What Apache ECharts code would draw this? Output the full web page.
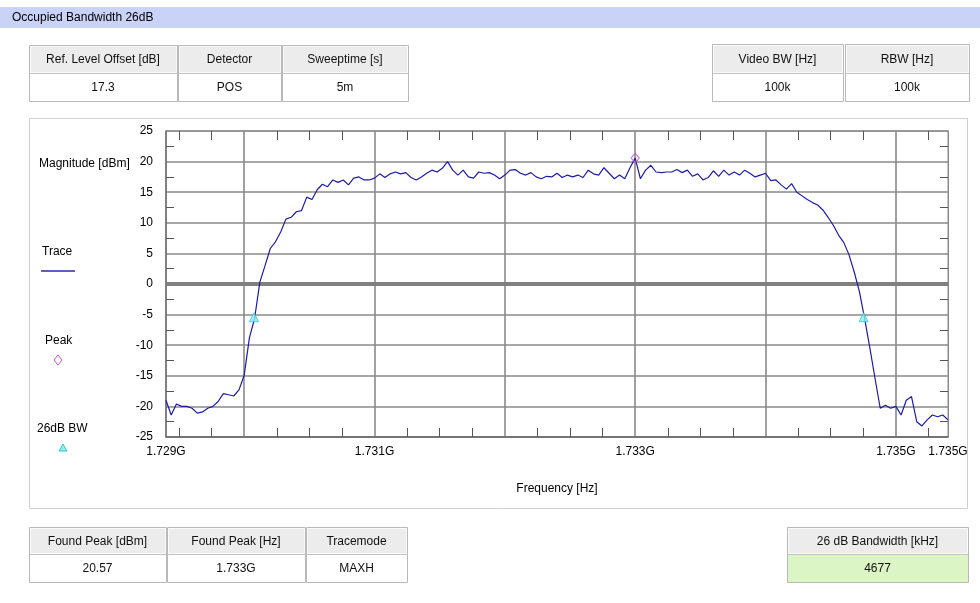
<!DOCTYPE html>
<html><head><meta charset="utf-8">
<script src="https://cdn.jsdelivr.net/npm/echarts@6/dist/echarts.min.js"></script>
<style>html,body{margin:0;padding:0;background:#fff}#c{width:980px;height:603px}</style>
</head><body><div id="c"></div>
<script>
// ---------------- data ----------------
const freqMHz = [
1729.40,1729.44,1729.48,1729.52,1729.56,1729.60,1729.64,1729.68,1729.72,1729.76,1729.80,1729.84,1729.88,1729.92,1729.96,1730.00,1730.04,1730.08,1730.12,1730.16,1730.20,1730.24,1730.28,1730.32,1730.36,
1730.40,1730.44,1730.48,1730.52,1730.56,1730.60,1730.64,1730.68,1730.72,1730.76,1730.80,1730.84,1730.88,1730.92,1730.96,1731.00,1731.04,1731.08,1731.12,1731.16,1731.20,1731.24,1731.28,1731.32,1731.36,
1731.40,1731.44,1731.48,1731.52,1731.56,1731.60,1731.64,1731.68,1731.72,1731.76,1731.80,1731.84,1731.88,1731.92,1731.96,1732.00,1732.04,1732.08,1732.12,1732.16,1732.20,1732.24,1732.28,1732.32,1732.36,
1732.40,1732.44,1732.48,1732.52,1732.56,1732.60,1732.64,1732.68,1732.72,1732.76,1732.80,1732.84,1732.88,1732.92,1732.96,1733.00,1733.04,1733.08,1733.12,1733.16,1733.20,1733.24,1733.28,1733.32,1733.36,
1733.40,1733.44,1733.48,1733.52,1733.56,1733.60,1733.64,1733.68,1733.72,1733.76,1733.80,1733.84,1733.88,1733.92,1733.96,1734.00,1734.04,1734.08,1734.12,1734.16,1734.20,1734.24,1734.28,1734.32,1734.36,
1734.40,1734.44,1734.48,1734.52,1734.56,1734.60,1734.64,1734.68,1734.72,1734.76,1734.80,1734.84,1734.88,1734.92,1734.96,1735.00,1735.04,1735.08,1735.12,1735.16,1735.20,1735.24,1735.28,1735.32,1735.36,
1735.40
];
const magnitudeDbm = [
-19.0,-21.4,-19.6,-20.0,-20.0,-20.3,-21.1,-20.9,-20.3,-20.0,-19.2,-17.9,-18.1,-18.3,-17.3,-14.9,-8.8,-5.6,0.3,3.0,5.8,6.9,8.5,10.6,10.9,
11.8,12.0,14.2,13.8,15.4,16.3,15.9,17.0,16.6,17.0,16.2,17.3,17.5,17.0,17.0,17.3,18.0,17.4,18.0,18.3,18.0,18.2,17.4,17.0,17.5,
18.1,18.6,18.3,18.9,20.0,18.6,17.8,18.6,17.5,17.3,18.3,18.1,18.2,17.8,17.2,17.8,18.6,18.7,18.1,17.8,18.2,17.5,17.2,17.6,17.5,
18.1,17.4,17.8,17.5,17.8,17.4,18.6,18.0,17.8,19.0,18.1,17.2,17.8,17.2,19.0,20.57,17.2,18.6,19.4,18.3,18.2,18.3,18.3,18.7,18.2,
18.6,17.6,18.0,17.0,17.4,18.5,17.6,18.6,17.8,18.3,17.8,18.6,18.1,17.5,17.8,18.1,16.9,17.0,16.2,15.5,16.4,15.0,14.4,13.8,13.3,
12.9,12.1,10.9,9.6,8.0,6.8,4.8,2.0,-1.2,-5.6,-10.4,-15.4,-20.3,-19.8,-20.3,-20.0,-21.4,-19.0,-18.4,-22.5,-23.2,-22.2,-21.4,-21.7,-21.4,
-22.2
];
const peakPoint = [[1733.00, 20.57]];
const bwPoints = [[1730.075, -5.43], [1734.752, -5.43]];

const xMin = 1729.4, xMax = 1735.4;
const yMin = -25, yMax = 25, yStep = 5;
const xLabelValues = [1729.4, 1731, 1733, 1735, 1735.4];
const xGridValues = [1730, 1731, 1732, 1733, 1734, 1735];
const xMinorValues = [1729.5, 1729.75, 1730.25, 1730.5, 1730.75, 1731.25, 1731.5, 1731.75, 1732.25, 1732.5, 1732.75,
  1733.25, 1733.5, 1733.75, 1734.25, 1734.5, 1734.75, 1735.25];

const titleText = 'Occupied Bandwidth 26dB';
const paramHeaders = ['Ref. Level Offset [dB]', 'Detector', 'Sweeptime [s]'];
const paramValues = ['17.3', 'POS', '5m'];
const bwHeaders = ['Video BW [Hz]', 'RBW [Hz]'];
const bwValues = ['100k', '100k'];
const resultHeaders = ['Found Peak [dBm]', 'Found Peak [Hz]', 'Tracemode'];
const resultValues = ['20.57', '1.733G', 'MAXH'];
const obwHeaders = ['26 dB Bandwidth [kHz]'];
const obwValues = ['4677'];

// ---------------- drawing ----------------
const FONT = '"Liberation Sans", Arial, sans-serif';
const chart = echarts.init(document.getElementById('c'), null, {renderer: 'canvas'});
const graphics = [];

graphics.push({type: 'rect', shape: {x: 0, y: 7, width: 980, height: 21}, style: {fill: '#c9d3f7'}});
graphics.push({type: 'text', x: 12, y: 17.5, style: {text: titleText, font: '12px ' + FONT, fill: '#000', verticalAlign: 'middle'}});
// chart panel
graphics.push({type: 'rect', shape: {x: 29.5, y: 118.5, width: 938, height: 390}, style: {fill: 'none', stroke: '#cfcfcf', lineWidth: 1}});

function addTable(xs, ws, y, hh, hv, headers, values, valueFill) {
  headers.forEach((h, i) => {
    const x = xs[i], w = ws[i];
    graphics.push({type: 'rect', shape: {x: x + 0.5, y: y + 0.5, width: w, height: hh + hv}, style: {fill: valueFill || '#fff', stroke: '#b9b9b9', lineWidth: 1}});
    graphics.push({type: 'rect', shape: {x: x + 1.5, y: y + 1.5, width: w - 2, height: hh - 2}, style: {fill: '#ececec', stroke: '#fafafa', lineWidth: 1}});
    graphics.push({type: 'line', shape: {x1: x + 0.5, y1: y + hh + 0.5, x2: x + w + 0.5, y2: y + hh + 0.5}, style: {stroke: '#c4c4c4', lineWidth: 1}});
    graphics.push({type: 'text', x: x + w / 2, y: y + hh / 2 + 1, style: {text: h, font: '12px ' + FONT, fill: '#111', align: 'center', verticalAlign: 'middle'}});
    graphics.push({type: 'text', x: x + w / 2, y: y + hh + hv / 2 + 1, style: {text: values[i], font: '12px ' + FONT, fill: '#111', align: 'center', verticalAlign: 'middle'}});
  });
}
addTable([29, 178, 282], [148, 103, 126], 45, 28, 28, paramHeaders, paramValues);
addTable([712, 845], [131, 124], 44, 29, 28, bwHeaders, bwValues);
addTable([29, 167, 306], [137, 138, 101], 527, 27, 28, resultHeaders, resultValues);
addTable([787], [181], 527, 27, 28, obwHeaders, obwValues, '#dbf5c4');

// left legend texts
graphics.push({type: 'text', x: 39, y: 164, style: {text: 'Magnitude [dBm]', font: '12px ' + FONT, fill: '#000', verticalAlign: 'middle'}});
graphics.push({type: 'text', x: 42, y: 252, style: {text: 'Trace', font: '12px ' + FONT, fill: '#000', verticalAlign: 'middle'}});
graphics.push({type: 'line', shape: {x1: 41, y1: 271, x2: 75, y2: 271}, style: {stroke: '#2a2aa8', lineWidth: 1.5}});
graphics.push({type: 'text', x: 45, y: 341, style: {text: 'Peak', font: '12px ' + FONT, fill: '#000', verticalAlign: 'middle'}});
graphics.push({type: 'polygon', shape: {points: [[58, 355], [62, 360], [58, 365], [54, 360]]}, style: {fill: '#fff', stroke: '#d050d0', lineWidth: 1}});
graphics.push({type: 'text', x: 37, y: 429, style: {text: '26dB BW', font: '12px ' + FONT, fill: '#000', verticalAlign: 'middle'}});
graphics.push({type: 'polygon', shape: {points: [[63, 444], [67, 451], [59, 451]]}, style: {fill: '#8ceef0', stroke: '#30c8d8', lineWidth: 1}});

const tickStyle = {color: '#555', width: 1};
const option = {
  animation: false,
  textStyle: {fontFamily: FONT},
  grid: {left: 166, top: 131, right: 32, bottom: 166, show: true, borderColor: '#8a8a8a', borderWidth: 1, backgroundColor: '#fff'},
  graphic: graphics,
  xAxis: [
    {
      type: 'value', min: xMin, max: xMax, position: 'bottom',
      axisLine: {show: true, onZero: false, lineStyle: {color: '#6a6a6a', width: 1.5}},
      axisTick: {show: false, customValues: xGridValues},
      splitLine: {show: true, lineStyle: {color: '#8a8a8a', width: 1.6}},
      axisLabel: {customValues: xLabelValues, margin: 9, fontSize: 12, color: '#000',
        formatter: v => (v / 1000).toFixed(3) + 'G'},
      name: 'Frequency [Hz]', nameLocation: 'middle', nameGap: 46,
      nameTextStyle: {fontSize: 12, color: '#000'}
    },
    {
      type: 'value', min: xMin, max: xMax, position: 'bottom',
      axisLine: {show: false, onZero: false}, axisLabel: {show: false}, splitLine: {show: false},
      axisTick: {show: true, inside: true, length: 9, customValues: xMinorValues, lineStyle: tickStyle}
    },
    {
      type: 'value', min: xMin, max: xMax, position: 'top',
      axisLine: {show: false, onZero: false}, axisLabel: {show: false}, splitLine: {show: false},
      axisTick: {show: true, inside: true, length: 9, customValues: xMinorValues, lineStyle: tickStyle}
    }
  ],
  yAxis: [
    {
      type: 'value', min: yMin, max: yMax, interval: yStep, position: 'left',
      axisLine: {show: true, onZero: false, lineStyle: {color: '#6a6a6a', width: 1.5}},
      axisTick: {show: false, inside: true},
      minorTick: {show: true, splitNumber: 2, length: 8, lineStyle: tickStyle},
      splitLine: {show: true, lineStyle: {color: '#8a8a8a', width: 1.6}},
      axisLabel: {margin: 13, fontSize: 12, color: '#000'}
    },
    {
      type: 'value', min: yMin, max: yMax, interval: yStep, position: 'right',
      axisLine: {show: true, onZero: false, lineStyle: {color: '#8a8a8a', width: 1}},
      axisTick: {show: false, inside: true},
      minorTick: {show: true, splitNumber: 2, length: 8, lineStyle: tickStyle},
      splitLine: {show: false}, axisLabel: {show: false}
    }
  ],
  series: [
    {
      name: 'Trace', type: 'line', xAxisIndex: 0, yAxisIndex: 0,
      data: freqMHz.map((f, i) => [f, magnitudeDbm[i]]),
      showSymbol: false, symbol: 'none',
      lineStyle: {color: '#1c1caa', width: 1.2},
      z: 3,
      markLine: {
        silent: true, symbol: ['none', 'none'], label: {show: false},
        lineStyle: {color: '#808080', width: 4, type: 'solid'},
        data: [{yAxis: 0}], z: 2
      }
    },
    {
      name: 'Peak', type: 'scatter', xAxisIndex: 0, yAxisIndex: 0, data: peakPoint,
      symbol: 'diamond', symbolSize: [8, 10],
      itemStyle: {color: 'rgba(255,255,255,0)', borderColor: '#d050d0', borderWidth: 1.2}, z: 5
    },
    {
      name: '26dB BW', type: 'scatter', xAxisIndex: 0, yAxisIndex: 0, data: bwPoints,
      symbol: 'triangle', symbolSize: 9,
      itemStyle: {color: '#8ceef0', borderColor: '#30c8d8', borderWidth: 1}, z: 5
    }
  ]
};
chart.setOption(option);
</script>
</body></html>
